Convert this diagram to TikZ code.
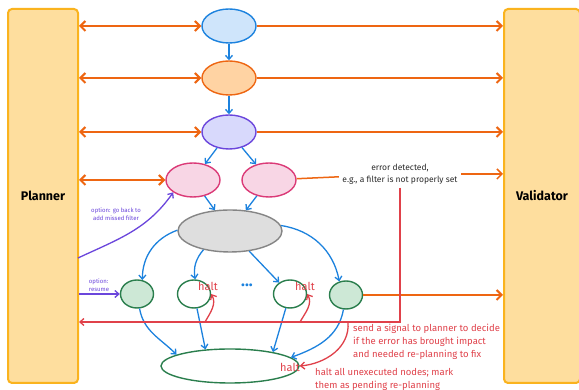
\documentclass[tikz,border=0pt]{standalone}
\usepackage{fontspec}
\setmainfont{Fira Sans}
\usetikzlibrary{arrows.meta,shapes.geometric}

\definecolor{boxfill}{HTML}{FEDE9E}
\definecolor{boxline}{HTML}{FAB31E}
\definecolor{ioline}{HTML}{EE6612}
\definecolor{flowline}{HTML}{1C82DE}
\definecolor{haltline}{HTML}{E0414A}
\definecolor{optline}{HTML}{6B46DC}
\definecolor{textgray}{HTML}{2B2B2B}
\definecolor{bluefill}{HTML}{CFE5FB}
\definecolor{blueline}{HTML}{1C82DE}
\definecolor{orangefill}{HTML}{FFD3A3}
\definecolor{orangeline}{HTML}{EE6612}
\definecolor{purplefill}{HTML}{D8D9FC}
\definecolor{purpleline}{HTML}{6B46DC}
\definecolor{pinkfill}{HTML}{F8D6E5}
\definecolor{pinkline}{HTML}{DB3A77}
\definecolor{grayfill}{HTML}{DEDEDE}
\definecolor{grayline}{HTML}{858585}
\definecolor{taskfill}{HTML}{CDE8D6}
\definecolor{taskline}{HTML}{2A7E4D}

\begin{document}
\begin{tikzpicture}[x=1pt,y=1pt]

\tikzset{
  Box/.style={draw=boxline,fill=boxfill,line width=2pt,rounded corners=4pt,minimum height=374pt,font=\bfseries\fontsize{12.5}{14}\selectfont},
  Op/.style={ellipse,line width=1.4pt,minimum width=54pt,minimum height=34pt,inner sep=0pt},
  Task/.style={draw=taskline,ellipse,line width=1.4pt,minimum width=33pt,minimum height=28pt,inner sep=0pt},
  IO/.style={ioline,line width=2pt,-{Straight Barb[length=5pt,width=10pt]}},
  IOboth/.style={IO,{Straight Barb[length=5pt,width=10pt]}-{Straight Barb[length=5pt,width=10pt]}},
  Flow/.style={flowline,line width=1.3pt,-{Straight Barb[length=4pt,width=7pt]}},
  Halt/.style={haltline,line width=1.3pt,-{Straight Barb[length=4pt,width=7pt]}},
  Opt/.style={optline,line width=1.3pt,-{Straight Barb[length=4pt,width=7pt]}},
  HaltText/.style={text=haltline,font=\fontsize{11}{12}\selectfont,inner sep=0pt}
}

  \useasboundingbox (0,0) rectangle (579,390);
  \fill[white] (0,0) rectangle (579,390);

  \node[Box,minimum width=70pt] (p) at (43,194) {Planner};
  \node[Box,minimum width=76pt] (v) at (542,194) {Validator};

  \node[Op,draw=blueline,fill=bluefill] (n1) at (229,364) {};
  \node[Op,draw=orangeline,fill=orangefill] (n2) at (229,312) {};
  \node[Op,draw=purpleline,fill=purplefill] (n3) at (229,258) {};
  \node[Op,draw=pinkline,fill=pinkfill] (n4a) at (193,210) {};
  \node[Op,draw=pinkline,fill=pinkfill] (n4b) at (269,210) {};
  \node[Op,draw=grayline,fill=grayfill,minimum width=104pt,minimum height=42pt] (g) at (230,159) {};

  \node[Task,fill=taskfill] (t1) at (137,96) {};
  \node[Task] (t2) at (194,96) {};
  \node[Task] (t3) at (290,96) {};
  \node[Task,fill=taskfill] (t4) at (346,95) {};
  \node[Task,minimum width=138pt,minimum height=34pt] (b) at (230,24) {};
  \node[text=flowline,font=\bfseries\fontsize{16}{16}\selectfont] (dots) at (247,105) {...};

  \node[text=textgray,font=\fontsize{8.5}{12}\selectfont,align=center] (err) at (400,216) {error detected,\\e.g., a filter is not properly set};
  \node[text=haltline,font=\fontsize{9.5}{13}\selectfont,align=left,anchor=north west,inner sep=0pt] (sig) at (353,66) {send a signal to planner to decide\\if the error has brought impact\\and needed re-planning to fix};
  \node[text=haltline,font=\fontsize{9.5}{13}\selectfont,align=left,anchor=north west,inner sep=0pt] (mark) at (315,22) {halt all unexecuted nodes; mark\\them as pending re-planning};
  \node[text=optline,font=\fontsize{6}{8}\selectfont,align=center] (back) at (116,176) {option: go back to\\add missed filter};
  \node[text=optline,font=\fontsize{6}{8}\selectfont,align=left] (resume) at (99,105) {option:\\resume};

  \node[HaltText] (h2l) at (208,104) {halt};
  \node[HaltText] (h3l) at (305,104) {halt};
  \node[HaltText] (hbl) at (290,23) {halt};

  \coordinate (s) at (400,68);
  \coordinate (h2) at (205,68);
  \coordinate (h3) at (300,68);
  \coordinate (h4) at (348,68);
  \coordinate (o1) at (78,132);

  \draw[IOboth] (n1 -| p.east) -- (n1);
  \draw[IOboth] (n2 -| p.east) -- (n2);
  \draw[IOboth] (n3 -| p.east) -- (n3);
  \draw[IOboth] (n4a -| p.east) -- (n4a);

  \draw[IO] (n1) -- (n1 -| v.west);
  \draw[IO] (n2) -- (n2 -| v.west);
  \draw[IO] (n3) -- (n3 -| v.west);
  \draw[IO] (t4) -- (t4 -| v.west);
  \draw[ioline,line width=1.5pt] (n4b) -- (err);
  \draw[IO,line width=1.5pt] (err) -- (err -| v.west);

  \draw[Flow] (n1) -- (n2);
  \draw[Flow] (n2) -- (n3);
  \draw[Flow] (n3) -- (n4a);
  \draw[Flow] (n3) -- (n4b);
  \draw[Flow] (n4a) -- (g);
  \draw[Flow] (n4b) -- (g);

  \draw[Flow] (g) to[bend right=35] (t1);
  \draw[Flow] (g) to[bend right=25] (t2);
  \draw[Flow] (g) -- (t3);
  \draw[Flow] (g) to[bend left=35] (t4);

  \draw[Flow] (t1) to[out=-80,in=135] (b.168);
  \draw[Flow] (t2) -- (b.146);
  \draw[Flow] (t3) -- (b.18);
  \draw[Flow] (t4) to[out=-100,in=20] (b.8);

  \draw[Halt] (err) -- (s) -- (s -| p.east);
  \draw[Halt] (h2) to[out=60,in=-60] (t2.east);
  \draw[Halt] (h3) to[out=60,in=-60] (t3.east);
  \draw[Halt] (h4) to[out=-85,in=5] (b.east);

  \draw[Opt] (o1) to[out=25,in=-125] (n4a.212);
  \draw[Opt] (p.east |- t1) -- (t1);

\end{tikzpicture}
\end{document}
